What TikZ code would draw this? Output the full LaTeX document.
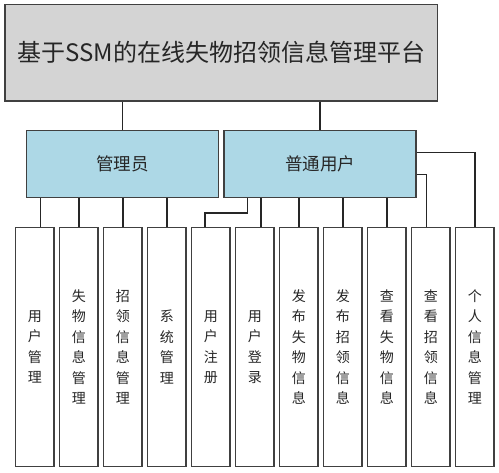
\documentclass[tikz,border=0pt]{standalone}
\usepackage{fontspec}
\setmainfont{Noto Sans CJK SC}
\definecolor{lightbluec}{HTML}{ADD8E6}
\begin{document}
\begin{tikzpicture}[x=1pt,y=-1pt,
  box/.style={draw=black!75,line width=1.4pt,inner sep=0pt,anchor=center},
  topbox/.style={box,fill=black!17,minimum width=432.7pt,minimum height=96.3pt,font=\fontsize{24}{28}\selectfont,text=black!85},
  midbox/.style={box,fill=lightbluec,minimum width=192pt,minimum height=67.4pt,font=\fontsize{17.5}{20}\selectfont,text=black!85},
  leaf/.style={box,fill=white,minimum width=38.3pt,minimum height=239.4pt,align=center,font=\fontsize{14}{20.5}\selectfont,text=black!85},
  conn/.style={draw=black!85,line width=1.3pt}]
\useasboundingbox (0,0) rectangle (499,473);
\node[topbox] (top) at (221.3,52.8) {基于SSM的在线失物招领信息管理平台};
\node[midbox] (adm) at (122.7,164) {管理员};
\node[midbox] (usr) at (320,164) {普通用户};
\node[leaf] (l1) at (34.9,347) {用\\户\\管\\理};
\node[leaf] (l2) at (78.9,347) {失\\物\\信\\息\\管\\理};
\node[leaf] (l3) at (122.9,347) {招\\领\\信\\息\\管\\理};
\node[leaf] (l4) at (166.9,347) {系\\统\\管\\理};
\node[leaf] (l5) at (210.9,347) {用\\户\\注\\册};
\node[leaf] (l6) at (254.9,347) {用\\户\\登\\录};
\node[leaf] (l7) at (298.9,347) {发\\布\\失\\物\\信\\息};
\node[leaf] (l8) at (342.9,347) {发\\布\\招\\领\\信\\息};
\node[leaf] (l9) at (386.9,347) {查\\看\\失\\物\\信\\息};
\node[leaf] (l10) at (430.9,347) {查\\看\\招\\领\\信\\息};
\node[leaf] (l11) at (474.9,347) {个\\人\\信\\息\\管\\理};
\coordinate (c1) at ([xshift=5.4pt]l1.north);
\coordinate (c5) at ([xshift=-6pt]l5.north);
\coordinate (c6) at ([xshift=6pt]l6.north);
\coordinate (c10) at ([xshift=-4.2pt]l10.north);
\coordinate (u5) at ([xshift=24.3pt]usr.south west);
\draw[conn] (top.south -| adm.north) -- (adm.north);
\draw[conn] (top.south -| usr.north) -- (usr.north);
\draw[conn] (adm.south -| c1) -- (c1);
\draw[conn] (adm.south -| l2.north) -- (l2.north);
\draw[conn] (adm.south -| l3.north) -- (l3.north);
\draw[conn] (adm.south -| l4.north) -- (l4.north);
\draw[conn] (u5) -- ++(0,14.6) -| (c5);
\draw[conn] (usr.south -| c6) -- (c6);
\draw[conn] (usr.south -| l7.north) -- (l7.north);
\draw[conn] (usr.south -| l8.north) -- (l8.north);
\draw[conn] (usr.south -| l9.north) -- (l9.north);
\draw[conn] ([yshift=-10.3pt]usr.east) -| (c10);
\draw[conn] ([yshift=11.7pt]usr.east) -| (l11.north);
\end{tikzpicture}
\end{document}
